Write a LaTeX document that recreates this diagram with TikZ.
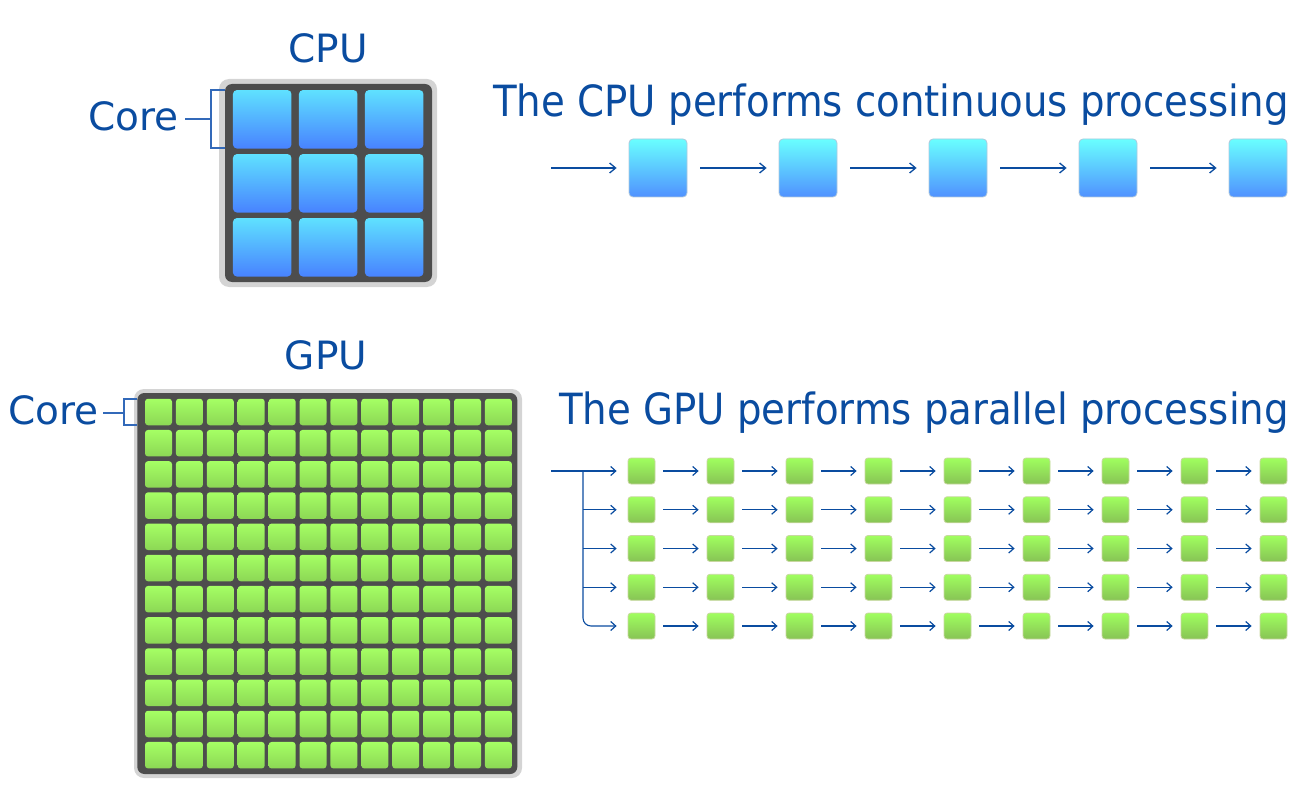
\documentclass[tikz,border=0pt]{standalone}
\usepackage{fontspec}
\setmainfont{DejaVu Sans}
\newfontfamily\condfont{DejaVu Sans Condensed}
\usetikzlibrary{arrows.meta}
\definecolor{txtblue}{RGB}{10,76,160}
\definecolor{brkblue}{RGB}{50,105,185}
\definecolor{framedark}{RGB}{77,77,77}
\definecolor{framelight}{RGB}{212,212,212}
\definecolor{cputop}{RGB}{95,225,255}
\definecolor{cpubot}{RGB}{72,130,255}
\definecolor{seqtop}{RGB}{105,255,255}
\definecolor{seqbot}{RGB}{80,145,255}
\definecolor{seqedge}{RGB}{175,200,220}
\definecolor{gputop}{RGB}{165,255,100}
\definecolor{gpubot}{RGB}{140,215,85}
\definecolor{gseqtop}{RGB}{160,255,95}
\definecolor{gseqbot}{RGB}{135,195,85}
\definecolor{gseqedge}{RGB}{200,215,160}
\begin{document}
\begin{tikzpicture}[x=1pt,y=-1pt,
  outerframe/.style={fill=framelight, rounded corners=10pt, inner sep=0pt},
  innerframe/.style={fill=framedark, rounded corners=7pt, inner sep=0pt},
  cpucore/.style={rectangle, rounded corners=4pt, inner sep=0pt, minimum width=58.5pt, minimum height=58.5pt, top color=cputop, bottom color=cpubot},
  gpucore/.style={rectangle, rounded corners=3pt, inner sep=0pt, minimum width=27pt, minimum height=26.5pt, top color=gputop, bottom color=gpubot},
  seqbox/.style={rectangle, rounded corners=4pt, inner sep=0pt, minimum width=58pt, minimum height=58pt, top color=seqtop, bottom color=seqbot, draw=seqedge, line width=0.8pt},
  gseqbox/.style={rectangle, rounded corners=3pt, inner sep=0pt, minimum width=27pt, minimum height=26pt, top color=gseqtop, bottom color=gseqbot, draw=gseqedge, line width=0.8pt},
  title/.style={text=txtblue, font=\fontsize{39}{41}\selectfont, inner sep=0pt},
  sentence/.style={text=txtblue, font=\condfont\fontsize{43}{45}\selectfont, inner sep=0pt},
  brk/.style={draw=brkblue, line width=1.2pt},
  arr/.style={draw=txtblue, line width=1.2pt, -{Straight Barb[length=6pt,width=10pt,line width=1.3pt]}},
  garr/.style={draw=txtblue, line width=1.1pt, -{Straight Barb[length=5pt,width=9pt,line width=1.2pt]}}
]
\useasboundingbox (0,0) rectangle (1300,810);

% ---------- CPU chip ----------
\node[outerframe, minimum width=218pt, minimum height=208pt] (cpuouter) at (328,183) {};
\node[innerframe, minimum width=207pt, minimum height=198pt] (cpuinner) at (328.5,183) {};
\foreach \i/\x in {1/262.2,2/328.2,3/394.2}{
  \foreach \j/\y in {1/119.3,2/183.3,3/247.3}{
    \node[cpucore] (c\j\i) at (\x,\y) {};
  }
}
\node[title, anchor=base] (cpulbl) at (328,62.7) {CPU};
\node[title, anchor=base west] (corecpu) at (88,131) {Core};
\coordinate (cbt) at (225,90);
\coordinate (cbb) at (225,148);
\coordinate (cbm) at (185,119);
\draw[brk] (cbt) -- (211,90) -- (211,148) -- (cbb);
\draw[brk] (cbm) -- (211,119);

% ---------- CPU sequence ----------
\node[sentence, anchor=base east] (cputxt) at (1289,116.7) {The CPU performs continuous processing};
\foreach \k/\x in {1/658,2/808,3/958,4/1108,5/1258}{
  \node[seqbox] (s\k) at (\x,168) {};
}
\coordinate (s0) at (551,168);
\draw[arr, shorten >=12pt] (s0) -- (s1);
\foreach \a/\b in {1/2,2/3,3/4,4/5}{
  \draw[arr, shorten <=13pt, shorten >=12pt] (s\a) -- (s\b);
}

% ---------- GPU chip ----------
\node[outerframe, minimum width=388pt, minimum height=389pt] (gpuouter) at (328,583.5) {};
\node[innerframe, minimum width=380pt, minimum height=381pt] (gpuinner) at (327.3,583.5) {};
\foreach \i in {0,...,11}{
  \foreach \j in {0,...,11}{
    \node[gpucore] (g\j-\i) at ({158.5+30.9*\i},{412+31.2*\j}) {};
  }
}
\node[title, anchor=base] (gpulbl) at (326,369) {GPU};
\node[title, anchor=base west] (coregpu) at (8,424) {Core};
\coordinate (gbt) at (137,399);
\coordinate (gbb) at (137,425);
\coordinate (gbm) at (103,413);
\draw[brk] (gbt) -- (124,399) -- (124,425) -- (gbb);
\draw[brk] (gbm) -- (124,413);

% ---------- GPU sequence ----------
\node[sentence, anchor=base east] (gputxt) at (1289,424.3) {The GPU performs parallel processing};
\foreach \r/\y in {1/471,2/509.75,3/548.5,4/587.25,5/626}{
  \foreach \c in {1,...,9}{
    \node[gseqbox] (r\r c\c) at ({641.5+79*(\c-1)},\y) {};
  }
  \foreach \a/\b in {1/2,2/3,3/4,4/5,5/6,6/7,7/8,8/9}{
    \draw[garr, shorten <=8pt, shorten >=8pt] (r\r c\a) -- (r\r c\b);
  }
}
\coordinate (g0) at (551,471);
\coordinate (gb) at (583,471);
\draw[garr, shorten >=11pt] (g0) -- (r1c1);
\foreach \r/\y in {2/509.75,3/548.5,4/587.25}{
  \coordinate (gb\r) at (583,\y);
  \draw[garr, shorten >=11pt] (gb\r) -- (r\r c1);
}
\draw[garr, rounded corners=8pt, shorten >=11pt] (gb) |- (r5c1);
\end{tikzpicture}
\end{document}
